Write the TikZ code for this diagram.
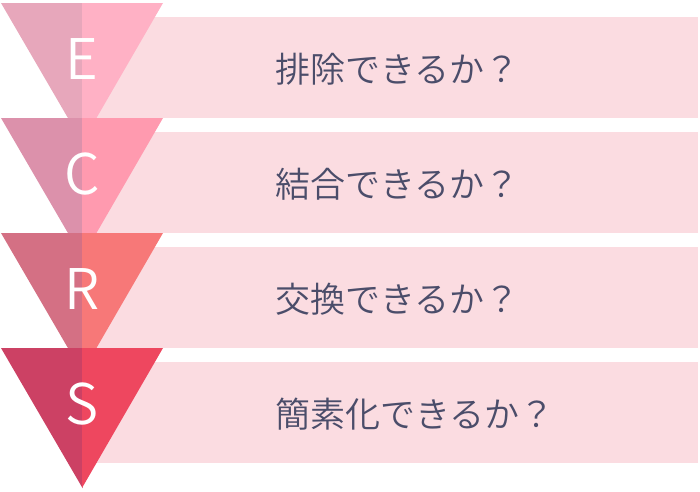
\documentclass[tikz,border=0pt]{standalone}
\usepackage{fontspec}
\newfontfamily\jp{Noto Sans CJK JP DemiLight}
\definecolor{rectpink}{HTML}{FBDCE1}
\definecolor{txtgray}{HTML}{4B4D6A}
\definecolor{eL}{HTML}{E7A7BB}\definecolor{eR}{HTML}{FFB1C5}
\definecolor{cL}{HTML}{DC91AB}\definecolor{cR}{HTML}{FF9AAF}
\definecolor{rL}{HTML}{D47084}\definecolor{rR}{HTML}{F77878}
\definecolor{sL}{HTML}{CC4164}\definecolor{sR}{HTML}{EE475F}
\tikzset{
  band/.style={fill=rectpink,draw=none},
  letter/.style={text=white,font=\jp\fontsize{56}{56}\selectfont,anchor=base,inner sep=0pt},
  question/.style={text=txtgray,font=\jp\fontsize{35}{35}\selectfont,anchor=base west,inner sep=0pt}
}
\begin{document}
\begin{tikzpicture}[x=1pt,y=-1pt]
\useasboundingbox (0,0) rectangle (700,491);
% bands
\foreach \i in {0,1,2,3}{
  \fill[band] (82,{17+115*\i}) rectangle (698,{118+115*\i});
}
% triangles
\foreach \i/\cl/\cr in {0/eL/eR,1/cL/cR,2/rL/rR,3/sL/sR}{
  \fill[\cl] (1,{3+115*\i}) -- (82.5,{3+115*\i}) -- (82.5,{143+115*\i}) -- cycle;
  \fill[\cr] (82,{3+115*\i}) -- (163,{3+115*\i}) -- (82,{143+115*\i}) -- cycle;
}
\node[letter] (lE) at (82,79) {E};
\node[letter] (lC) at (82,194) {C};
\node[letter] (lR) at (82,309) {R};
\node[letter] (lS) at (82,424) {S};
\node[question] (qE) at (275,82) {排除できるか？};
\node[question] (qC) at (275,197) {結合できるか？};
\node[question] (qR) at (275,312) {交換できるか？};
\node[question] (qS) at (275,427) {簡素化できるか？};
\end{tikzpicture}
\end{document}
